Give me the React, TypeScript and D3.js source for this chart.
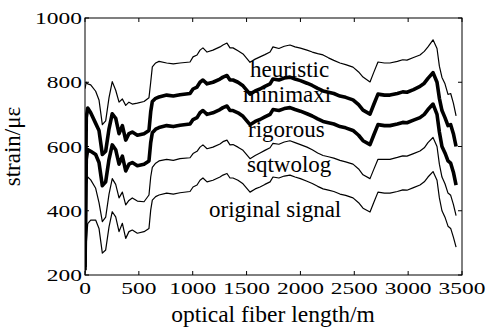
import React from "react";
import * as d3 from "d3";

const W = 492;
const H = 330;

const X_TICKS = [0, 500, 1000, 1500, 2000, 2500, 3000, 3500];
const Y_TICKS = [200, 400, 600, 800, 1000];

const positions = [0,12,25,53,99,130,161,192,223,253,285,316,347,378,408,439,486,548,594,610,625,656,687,758,820,882,975,1003,1040,1068,1095,1133,1188,1253,1281,1318,1346,1374,1420,1467,1532,1580,1625,1670,1718,1745,1800,1850,1903,1950,2000,2061,2110,2160,2210,2260,2310,2367,2420,2488,2540,2581,2646,2680,2720,2780,2831,2900,2950,2989,3050,3110,3150,3184,3231,3268,3290,3314,3342,3370,3395,3420,3445];

const originalSignal = [
  205,300,360,371,371,
  345,268,278,350,397,
  381,335,361,314,335,
  340,330,335,345,402,
  433,444,449,455,452,
  456,460,474,480,495,
  502,490,495,505,511,
  516,502,502,495,484,
  458,468,474,482,490,
  505,502,508,511,505,
  500,492,485,476,468,
  464,460,452,448,440,
  425,408,396,425,458,
  455,455,460,465,464,
  472,480,490,505,522,
  495,440,400,380,352,
  345,318,287];

const sqtwolog = [
  300,480,505,496,470,
  425,366,380,452,500,
  482,440,458,418,432,
  440,430,428,449,505,
  535,548,555,560,557,
  562,565,578,585,598,
  605,593,598,608,615,
  620,605,606,598,588,
  562,572,580,588,596,
  610,607,614,618,612,
  606,598,590,580,572,
  568,564,557,552,545,
  530,512,500,528,560,
  560,560,566,571,570,
  578,586,596,612,628,
  600,545,505,484,455,
  448,420,385];

const rigorous = [
  215,560,590,585,575,
  550,478,490,560,605,
  590,545,570,524,545,
  550,540,545,555,612,
  643,654,659,665,662,
  666,670,684,690,705,
  712,700,705,715,721,
  726,712,712,705,694,
  668,678,684,692,700,
  715,712,718,721,715,
  710,702,695,686,678,
  674,670,662,658,650,
  635,618,606,635,668,
  665,665,670,675,674,
  682,690,700,715,732,
  700,645,600,580,555,
  548,520,480];

const minimaxi = [
  225,690,720,705,672,
  650,575,585,655,702,
  688,640,665,620,640,
  645,635,640,650,708,
  740,750,754,760,757,
  761,765,779,785,800,
  807,795,800,810,816,
  821,807,807,800,789,
  763,773,779,787,795,
  810,807,813,816,810,
  805,797,790,781,773,
  769,765,757,753,745,
  730,713,701,730,763,
  760,760,765,770,769,
  777,787,797,812,830,
  800,750,712,690,665,
  668,640,600];

const heuristic = [
  780,800,795,792,772,
  745,668,680,752,802,
  775,738,748,728,738,
  732,735,740,752,800,
  848,860,865,860,857,
  860,863,879,885,900,
  907,894,900,910,916,
  922,907,907,898,888,
  862,872,879,886,894,
  910,905,912,916,910,
  906,900,894,889,885,
  876,868,860,855,847,
  832,816,801,830,863,
  860,860,865,870,869,
  877,885,896,910,932,
  905,850,815,795,762,
  765,735,695];

const seriesList = [
  { name: "heuristic", values: heuristic, noisy: false },
  { name: "minimaxi", values: minimaxi, noisy: true },
  { name: "rigorous", values: rigorous, noisy: true },
  { name: "sqtwolog", values: sqtwolog, noisy: false },
  { name: "original signal", values: originalSignal, noisy: false },
];

const labelItems = [
  { text: "heuristic", x: 250, y: 77 },
  { text: "minimaxi", x: 243, y: 102 },
  { text: "rigorous", x: 248, y: 137 },
  { text: "sqtwolog", x: 247, y: 172 },
  { text: "original signal", x: 209, y: 217 },
];

const SERIF = "'Liberation Serif', 'Times New Roman', Times, 'DejaVu Serif', serif";

export default function App() {
  const x = d3.scaleLinear().domain([0, 3500]).range([85, 462]);
  const y = d3.scaleLinear().domain([200, 1000]).range([275, 18]);
  const [x0, x1] = x.range();
  const [y0, y1] = y.range();

  const lineGen = (vals: number[]) =>
    d3
      .line<number>()
      .x((_, i) => x(positions[i]))
      .y((d) => y(d))(vals) || "";

  const tickLen = 4;

  return (
    <svg
      width={W}
      height={H}
      viewBox={`0 0 ${W} ${H}`}
      style={{ position: "absolute", left: 0, top: 0, background: "#fff" }}
    >
      <rect x={0} y={0} width={W} height={H} fill="#fff" />
      <defs>
        <clipPath id="plotclip">
          <rect x={x0} y={y1} width={x1 - x0} height={y0 - y1} />
        </clipPath>
      </defs>

      <g clipPath="url(#plotclip)">
        {seriesList.map((s) => (
          <path
            key={s.name}
            d={lineGen(s.values)}
            fill="none"
            stroke="#000"
            strokeWidth={s.noisy ? 3.6 : 1.2}
            strokeLinejoin="round"
          />
        ))}
      </g>

      <rect x={x0} y={y1} width={x1 - x0} height={y0 - y1} fill="none" stroke="#000" strokeWidth={1} />

      {X_TICKS.map((t) => (
        <g key={"xt" + t}>
          <line x1={x(t)} x2={x(t)} y1={y0} y2={y0 - tickLen} stroke="#000" />
          <line x1={x(t)} x2={x(t)} y1={y1} y2={y1 + tickLen} stroke="#000" />
          <text
            transform={`translate(${x(t)},${y0 + 19}) scale(1.34,1)`}
            textAnchor="middle"
            style={{ fontFamily: SERIF, fontSize: "17.5px" }}
            fill="#000"
          >
            {t}
          </text>
        </g>
      ))}

      {Y_TICKS.map((t) => (
        <g key={"yt" + t}>
          <line x1={x0} x2={x0 + tickLen} y1={y(t)} y2={y(t)} stroke="#000" />
          <line x1={x1} x2={x1 - tickLen} y1={y(t)} y2={y(t)} stroke="#000" />
          <text
            transform={`translate(${x0 - 3},${y(t) + 6}) scale(1.34,1)`}
            textAnchor="end"
            style={{ fontFamily: SERIF, fontSize: "17.5px" }}
            fill="#000"
          >
            {t}
          </text>
        </g>
      ))}

      {labelItems.map((l) => (
        <text
          key={l.text}
          x={l.x}
          y={l.y}
          style={{ fontFamily: SERIF, fontSize: "23px" }}
          fill="#000"
        >
          {l.text}
        </text>
      ))}

      <text
        x={(x0 + x1) / 2 - 0.5}
        y={322}
        textAnchor="middle"
        style={{ fontFamily: SERIF, fontSize: "23.5px" }}
        fill="#000"
      >
        optical fiber length/m
      </text>

      <text
        transform={`translate(20,${(y0 + y1) / 2}) rotate(-90)`}
        textAnchor="middle"
        style={{ fontFamily: SERIF, fontSize: "23px" }}
        fill="#000"
      >
        strain/με
      </text>
    </svg>
  );
}
